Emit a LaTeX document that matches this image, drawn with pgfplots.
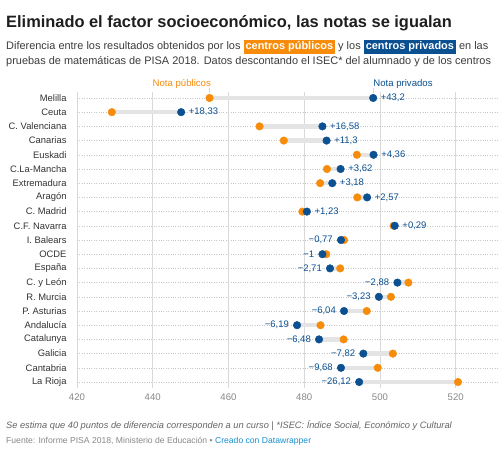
\documentclass[border=0pt]{standalone}
\usepackage{pgfplots}
\pgfplotsset{compat=1.18}
\usepackage{pgfplotstable}
\usepackage{fontspec}
\setmainfont{Liberation Sans}
\definecolor{dwor}{RGB}{247,140,10}
\definecolor{dwbl}{RGB}{11,80,145}
\definecolor{titlec}{RGB}{30,30,30}
\definecolor{subc}{RGB}{60,60,60}
\definecolor{labc}{RGB}{51,51,51}
\definecolor{tickc}{RGB}{136,136,136}
\definecolor{gridc}{RGB}{217,217,217}
\definecolor{dotc}{RGB}{200,200,200}
\definecolor{connc}{RGB}{228,228,228}
\definecolor{notec}{RGB}{100,100,100}
\definecolor{linkc}{RGB}{24,144,210}

\pgfplotstableread{
row pub priv lab
0 455.0 498.2 +43,2
1 429.2 447.5 +18,33
2 468.2 484.8 +16,58
3 474.6 485.9 +11,3
4 493.9 498.3 +4,36
5 486.0 489.6 +3,62
6 484.2 487.4 +3,18
7 494.0 496.6 +2,57
8 479.5 480.7 +1,23
9 503.6 503.9 +0,29
}\pos
\pgfplotstableread{
row pub priv lab
10 490.5 489.7 −0,77
11 485.8 484.8 −1
12 489.5 486.8 −2,71
13 507.5 504.6 −2,88
14 502.9 499.7 −3,23
15 496.5 490.5 −6,04
16 484.3 478.1 −6,19
17 490.4 483.9 −6,48
18 503.4 495.6 −7,82
19 499.4 489.7 −9,68
20 520.6 494.5 −26,12
}\negt

\begin{document}
\begin{tikzpicture}
\path[use as bounding box, fill=white] (0pt,0pt) rectangle (504pt,460pt);
\node[anchor=base west, inner sep=0pt, font=\fontsize{16.4}{18}\selectfont\bfseries, text=titlec] at (6pt,432.3pt) {Eliminado el factor socioeconómico, las notas se igualan};
\setlength{\fboxsep}{2pt}
\node[anchor=base west, inner sep=0pt, font=\fontsize{10.95}{12}\selectfont, text=subc] at (6pt,410pt) {Diferencia entre los resultados obtenidos por los \colorbox{dwor}{\textcolor{white}{\bfseries centros públicos}} y los \colorbox{dwbl}{\textcolor{white}{\bfseries centros privados}} en las};
\node[anchor=base west, inner sep=0pt, font=\fontsize{10.95}{12}\selectfont, text=subc] at (6pt,395pt) {pruebas de matemáticas de PISA 2018. Datos descontando el ISEC* del alumnado y de los centros};
\node[anchor=base west, inner sep=0pt, font=\fontsize{9.25}{10}\selectfont\itshape, text=notec] at (6pt,31.7pt) {Se estima que 40 puntos de diferencia corresponden a un curso | *ISEC: Índice Social, Económico y Cultural};
\node[anchor=base west, inner sep=0pt, font=\fontsize{8.6}{10}\selectfont, text=tickc] at (6pt,16.7pt) {Fuente: Informe PISA 2018, Ministerio de Educación • \textcolor{linkc}{Creado con Datawrapper}};

\begin{axis}[
  at={(77pt,72.3pt)}, anchor=south west,
  scale only axis, width=420.4pt, height=295.4pt,
  xmin=420, xmax=531, ymin=-0.4, ymax=20.4,
  y dir=reverse, clip=false,
  axis line style={draw=none},
  major tick length=0pt,
  xtick={420,440,...,520},
  ytick={0,...,20},
  yticklabels={Melilla,Ceuta,C. Valenciana,Canarias,Euskadi,C.La-Mancha,Extremadura,Aragón,C. Madrid,C.F. Navarra,I. Balears,OCDE,España,C. y León,R. Murcia,P. Asturias,Andalucía,Catalunya,Galicia,Cantabria,La Rioja},
  xmajorgrids, ymajorgrids,
  x grid style={draw=gridc, line width=0.8pt},
  y grid style={draw=dotc, dotted, line width=0.5pt},
  /pgf/number format/assume math mode=true,
  xticklabel style={font=\fontsize{9.6}{10}\selectfont, text=tickc, inner sep=0pt, anchor=north, yshift=-6.3pt},
  yticklabel style={font=\fontsize{9.4}{10}\selectfont, text=labc, inner sep=0pt, anchor=east, xshift=-10.3pt},
]
% connectors
\addplot[quiver={u=\thisrow{priv}-\thisrow{pub}, v=0}, -, draw=connc, line width=4.5pt] table[x=pub,y=row]{\pos};
\addplot[quiver={u=\thisrow{priv}-\thisrow{pub}, v=0}, -, draw=connc, line width=4.5pt] table[x=pub,y=row]{\negt};
% legend ticks
\draw[gridc, line width=0.8pt] (axis cs:455,0) ++(0pt,4.5pt) -- ++(0pt,5pt);
\draw[gridc, line width=0.8pt] (axis cs:498.2,0) ++(0pt,4.5pt) -- ++(0pt,5pt);
\node[anchor=base east, inner sep=0pt, font=\fontsize{9.6}{10}\selectfont, text=dwor] at ([xshift=1.5pt,yshift=11.5pt]axis cs:455,0) {Nota públicos};
\node[anchor=base west, inner sep=0pt, font=\fontsize{9.6}{10}\selectfont, text=dwbl] at ([yshift=11.5pt]axis cs:498.2,0) {Nota privados};
% public dots
\addplot[color=dwor, only marks, mark=*, mark size=3.8pt, mark options={solid, draw=dwor, fill=dwor}] table[x=pub,y=row]{\pos};
\addplot[color=dwor, only marks, mark=*, mark size=3.8pt, mark options={solid, draw=dwor, fill=dwor}] table[x=pub,y=row]{\negt};
% private dots with labels
\addplot[color=dwbl, only marks, mark=*, mark size=3.8pt, mark options={solid, draw=dwbl, fill=dwbl},
  nodes near coords, point meta=explicit symbolic,
  nodes near coords style={anchor=west, inner sep=0pt, xshift=7.5pt, font=\fontsize{9.5}{10}\selectfont, text=dwbl}]
  table[x=priv,y=row,meta=lab]{\pos};
\addplot[color=dwbl, only marks, mark=*, mark size=3.8pt, mark options={solid, draw=dwbl, fill=dwbl},
  nodes near coords, point meta=explicit symbolic,
  nodes near coords style={anchor=east, inner sep=0pt, xshift=-8pt, font=\fontsize{9.5}{10}\selectfont, text=dwbl}]
  table[x=priv,y=row,meta=lab]{\negt};
\end{axis}
\end{tikzpicture}
\end{document}
